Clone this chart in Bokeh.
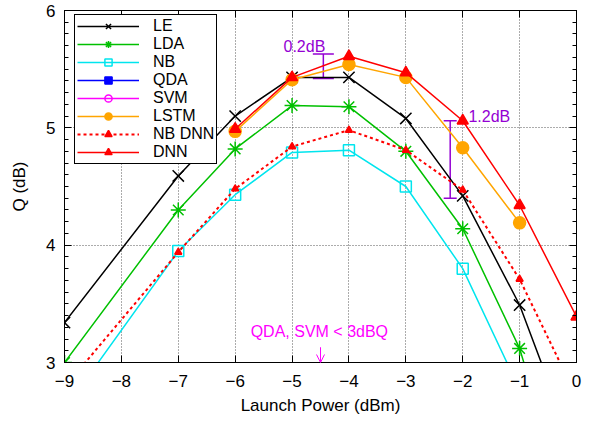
from bokeh.plotting import figure
from bokeh.models import (Range1d, LinearAxis, ColumnDataSource, Whisker, TeeHead,
                          Arrow, OpenHead, Label, CustomJSTickFormatter, FixedTicker,
                          Legend, LegendItem)
from bokeh.embed import file_html
from bokeh.resources import INLINE

NAN = float("nan")

# ---------------- data ----------------
LE_x = [-9, -7, -6, -5, -4, -3, -2, -1, 0]
LE_q = [3.34, 4.59, 5.10, 5.43, 5.43, 5.08, 4.42, 3.49, 2.20]

LDA_x = [-9, -7, -6, -5, -4, -3, -2, -1, 0]
LDA_q = [3.00, 4.30, 4.82, 5.19, 5.18, 4.80, 4.14, 3.12, 1.50]

NB_x = [-9, -7, -6, -5, -4, -3, -2, -1]
NB_q = [2.60, 3.95, 4.43, 4.79, 4.81, 4.50, 3.80, 2.77]

# QDA and SVM stay below 3 dB (outside the visible range): values unknown
QDA_x = [-5]
QDA_q = [NAN]
SVM_x = [-5]
SVM_q = [NAN]

LSTM_x = [-6, -5, -4, -3, -2, -1]
LSTM_q = [4.97, 5.41, 5.54, 5.43, 4.83, 4.19]

NBDNN_x = [-9, -7, -6, -5, -4, -3, -2, -1, 0]
NBDNN_q = [2.79, 3.94, 4.48, 4.84, 4.98, 4.81, 4.47, 3.71, 2.71]

DNN_x = [-6, -5, -4, -3, -2, -1, 0]
DNN_q = [4.99, 5.43, 5.61, 5.47, 5.06, 4.34, 3.39]

x_ticks = [-9, -8, -7, -6, -5, -4, -3, -2, -1, 0]
y_ticks = [3, 4, 5, 6]

gain_labels = ["0.2dB", "1.2dB"]
gain_x = [-4.45, -2.22]
gain_lo = [5.42, 4.40]
gain_hi = [5.63, 5.06]

# ---------------- figure ----------------
FONT = "Liberation Sans"
PURPLE = "#9400d3"
MAGENTA = "#ff00ff"

p = figure(width=596, height=420, x_range=Range1d(-9, 0), y_range=Range1d(3, 6),
           output_backend="svg", toolbar_location=None,
           min_border_left=64, min_border_right=20, min_border_top=10, min_border_bottom=58,
           x_axis_label="Launch Power (dBm)", y_axis_label="Q (dB)")
p.background_fill_color = "white"
p.border_fill_color = "white"
p.outline_line_color = "black"
p.outline_line_alpha = 1
p.outline_line_width = 1

xt = FixedTicker(ticks=x_ticks, minor_ticks=[])
minor_y = [round(3 + 0.1 * i, 2) for i in range(31)]
yt = FixedTicker(ticks=y_ticks, minor_ticks=minor_y)
fmt = CustomJSTickFormatter(code="return tick < 0 ? '\u2212' + String(-tick) : String(tick);")

bottom_ax = p.below[0]
left_ax = p.left[0]
bottom_ax.ticker = xt
left_ax.ticker = yt
bottom_ax.formatter = fmt
left_ax.formatter = fmt
p.xgrid.ticker = xt
p.ygrid.ticker = yt
p.grid.grid_line_color = "#000000"
p.grid.grid_line_alpha = 0.65
p.grid.grid_line_dash = "1 2"
p.grid.grid_line_width = 1

right_ax = LinearAxis(ticker=yt, major_label_text_font_size="0px", major_label_standoff=0)
top_ax = LinearAxis(ticker=xt, major_label_text_font_size="0px", major_label_standoff=0)
p.add_layout(right_ax, "right")
p.add_layout(top_ax, "above")

for ax in [bottom_ax, left_ax, right_ax, top_ax]:
    ax.axis_line_color = "black"
    ax.major_tick_in = 7
    ax.major_tick_out = 0
    ax.minor_tick_in = 4
    ax.minor_tick_out = 0
    ax.major_tick_line_color = "black"
    ax.minor_tick_line_color = "black"
    ax.major_label_text_font = FONT
    ax.major_label_text_color = "black"
    ax.axis_label_text_font = FONT
    ax.axis_label_text_font_style = "normal"
    ax.axis_label_text_color = "black"
    ax.axis_label_text_font_size = "17px"

for ax in [bottom_ax, left_ax]:
    ax.major_label_text_font_size = "17px"
bottom_ax.major_label_standoff = 12
bottom_ax.axis_label_standoff = 6
left_ax.major_label_standoff = 9
left_ax.axis_label_standoff = 14


def series(x, y, color, marker, size, fill, dash="solid", lw=1.5, mlw=1.5):
    src = ColumnDataSource(dict(x=x, y=y))
    ln = p.line("x", "y", source=src, line_color=color, line_width=lw, line_dash=dash)
    sc = p.scatter("x", "y", source=src, marker=marker, size=size,
                   line_color=color, fill_color=fill, line_width=mlw)
    return [ln, sc]


r_le = series(LE_x, LE_q, "black", "x", 16, None)
r_lda = series(LDA_x, LDA_q, "#00c000", "asterisk", 15, None)
r_nb = series(NB_x, NB_q, "#00e5ee", "square", 11, None)
r_qda = series(QDA_x, QDA_q, "#0000ff", "square", 11, "#0000ff")
r_svm = series(SVM_x, SVM_q, MAGENTA, "circle", 11, None)
r_lstm = series(LSTM_x, LSTM_q, "#ffa500", "circle", 12, "#ffa500")
r_nbdnn = series(NBDNN_x, NBDNN_q, "#ff0000", "triangle", 7, "#ff0000", dash="3 3", lw=2)
r_dnn = series(DNN_x, DNN_q, "#ff0000", "triangle", 11, "#ff0000")

legend = Legend(items=[
    LegendItem(label="LE", renderers=r_le),
    LegendItem(label="LDA", renderers=r_lda),
    LegendItem(label="NB", renderers=r_nb),
    LegendItem(label="QDA", renderers=r_qda),
    LegendItem(label="SVM", renderers=r_svm),
    LegendItem(label="LSTM", renderers=r_lstm),
    LegendItem(label="NB DNN", renderers=r_nbdnn),
    LegendItem(label="DNN", renderers=r_dnn),
], location=(10, 198))
legend.margin = 0
legend.padding = 2
legend.spacing = 0
legend.label_height = 18
legend.glyph_height = 18
legend.glyph_width = 62
legend.label_standoff = 14
legend.label_text_font = FONT
legend.label_text_font_size = "16px"
legend.label_text_color = "black"
legend.border_line_color = "black"
legend.border_line_width = 1
legend.border_line_alpha = 1
legend.background_fill_color = "white"
legend.background_fill_alpha = 1
p.add_layout(legend)

# gain bars
cap_sizes = [21, 13]
for gx, lo, hi, cap in zip(gain_x, gain_lo, gain_hi, cap_sizes):
    src = ColumnDataSource(dict(base=[gx], lower=[lo], upper=[hi]))
    w = Whisker(source=src, base="base", lower="lower", upper="upper", dimension="height",
                line_color=PURPLE, line_width=1.5,
                upper_head=TeeHead(size=cap, line_color=PURPLE, line_width=1.5),
                lower_head=TeeHead(size=cap, line_color=PURPLE, line_width=1.5))
    p.add_layout(w)

p.add_layout(Label(x=-5.15, y=5.695, text=gain_labels[0], text_font=FONT,
                   text_font_size="16px", text_color=PURPLE, text_baseline="alphabetic"))
p.add_layout(Label(x=-1.90, y=5.10, text=gain_labels[1], text_font=FONT,
                   text_font_size="16px", text_color=PURPLE, text_baseline="alphabetic"))

# QDA / SVM note
p.add_layout(Arrow(x_start=-4.5, y_start=3.13, x_end=-4.5, y_end=3.0,
                   line_color=MAGENTA, line_width=1,
                   end=OpenHead(size=8, line_color=MAGENTA, line_width=1)))
p.add_layout(Label(x=-4.52, y=3.26, text="QDA, SVM < 3dBQ", text_font=FONT,
                   text_font_size="16px", text_color=MAGENTA, text_align="center",
                   text_baseline="alphabetic"))

open("out.html", "w").write(file_html(p, INLINE))
